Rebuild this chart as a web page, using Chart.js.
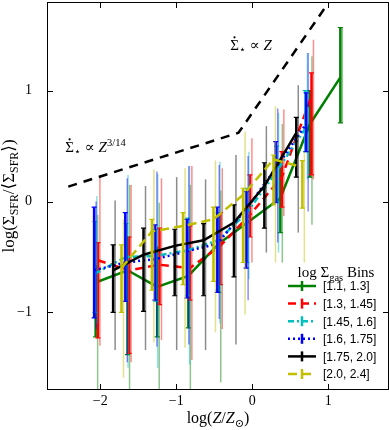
<!DOCTYPE html>
<html>
<head>
<meta charset="utf-8">
<script src="https://cdn.jsdelivr.net/npm/chart.js@4.4.0/dist/chart.umd.min.js"></script>
<style>
  html, body { margin: 0; padding: 0; background: #fff; }
</style>
</head>
<body>
<canvas id="myChart" width="390" height="430"></canvas>
<script>
// tick values
const xTicks = [-2, -1, 0, 1];
const yTicks = [-1, 0, 1];
const binLabels = ['[1.1, 1.3]', '[1.3, 1.45]', '[1.45, 1.6]', '[1.6, 1.75]', '[1.75, 2.0]', '[2.0, 2.4]'];

// [1.1, 1.3] bin
const greenX = [-2.06, -1.64, -1.25, -0.84, -0.44, 0.37, 0.76, 1.16];
const greenY = [-0.73, -0.62, -0.77, -0.67, -0.38, 0.03, 0.70, 1.12];
const greenLo = [-1.22, -1.38, -1.22, -1.14, -0.82, -0.28, 0.22, 0.71];
const greenHi = [-0.58, -0.32, -0.41, -0.35, -0.12, 0.35, 1.00, 1.57];
const greenThinLo = [-1.75, -1.75, -1.75, -1.75, -1.63, -0.55, -0.21, 0.71];
const greenThinHi = [-0.12, 0.15, -0.01, 0.15, 0.10, 0.70, 1.31, 1.57];

// [1.3, 1.45] bin
const redX = [-2.03, -1.62, -1.22, -0.82, -0.42, -0.03, 0.39, 0.78];
const redY = [-0.53, -0.62, -0.57, -0.60, -0.40, -0.12, 0.22, 0.95];
const redLo = [-1.23, -1.37, -0.93, -0.89, -0.75, -0.32, -0.05, 0.24];
const redHi = [-0.37, -0.32, -0.24, -0.22, -0.10, 0.24, 0.45, 1.16];
const redThinLo = [-1.30, -1.45, -1.25, -1.43, -1.15, -0.55, -0.13, 0.20];
const redThinHi = [0.24, 0.15, 0.21, 0.32, 0.30, 0.57, 0.83, 1.46];

// [1.45, 1.6] bin
const cyanX = [-2.07, -1.66, -1.27, -0.85, -0.45, -0.07, 0.32, 0.70];
const cyanY = [-0.65, -0.50, -0.49, -0.44, -0.35, -0.10, 0.27, 0.66];
const cyanLo = [-1.00, -0.90, -0.90, -0.85, -0.80, -0.55, 0.00, 0.45];
const cyanHi = [-0.18, -0.20, -0.25, -0.15, -0.10, 0.12, 0.50, 1.00];
const cyanThinLo = [-1.10, -1.50, -1.50, -1.47, -1.10, -0.70, -0.46, 0.20];
const cyanThinHi = [0.05, 0.24, 0.25, 0.32, 0.36, 0.45, 0.80, 1.34];

// [1.6, 1.75] bin
const blueX = [-2.08, -1.67, -1.28, -0.86, -0.46, -0.08, 0.31, 0.71];
const blueY = [-0.62, -0.55, -0.52, -0.45, -0.38, -0.07, 0.30, 0.70];
const blueLo = [-1.05, -0.90, -0.89, -0.87, -0.82, -0.60, -0.01, 0.45];
const blueHi = [-0.05, -0.10, -0.21, -0.16, -0.05, 0.09, 0.54, 0.98];
const blueThinLo = [-1.15, -1.45, -1.31, -1.29, -1.06, -0.89, -0.37, -0.09];
const blueThinHi = [0.00, 0.21, 0.27, 0.32, 0.33, 0.41, 0.84, 1.34];

// [1.75, 2.0] bin
const blackX = [-1.83, -1.43, -1.02, -0.64, -0.24, 0.16, 0.58];
const blackY = [-0.62, -0.48, -0.40, -0.35, -0.19, 0.14, 0.62];
const blackLo = [-1.00, -0.99, -0.85, -0.85, -0.68, -0.24, 0.22];
const blackHi = [-0.39, -0.24, -0.25, -0.20, -0.03, 0.35, 0.76];
const blackThinLo = [-1.34, -1.34, -1.34, -1.34, -1.29, -0.46, -0.28];
const blackThinHi = [0.01, 0.14, 0.22, 0.20, 0.42, 0.68, 1.05];

// [2.0, 2.4] bin
const yellowX = [-1.72, -1.32, -0.91, -0.51, -0.12, 0.28, 0.66];
const yellowY = [-0.60, -0.27, -0.22, -0.16, 0.06, 0.38, 0.31];
const yellowLo = [-1.00, -0.80, -0.75, -0.72, -0.55, -0.03, -0.06];
const yellowHi = [-0.39, -0.16, -0.10, -0.05, 0.12, 0.42, 0.37];
const yellowThinLo = [-1.59, -1.27, -1.32, -1.18, -1.02, -0.55, -0.55];
const yellowThinHi = [-0.16, 0.29, 0.30, 0.37, 0.63, 0.86, 0.45];

// scaling relation guide line
const refX = [-2.42, -0.18, 1.0];
const refY = [0.135, 0.62, 1.79];

const bins = [
  {x: greenX, y: greenY, lo: greenLo, hi: greenHi, thinLo: greenThinLo, thinHi: greenThinHi, rgb: '0,128,0', dash: []},
  {x: redX, y: redY, lo: redLo, hi: redHi, thinLo: redThinLo, thinHi: redThinHi, rgb: '255,0,0', dash: [8, 5]},
  {x: cyanX, y: cyanY, lo: cyanLo, hi: cyanHi, thinLo: cyanThinLo, thinHi: cyanThinHi, rgb: '0,191,191', dash: [6, 3, 2, 3]},
  {x: blueX, y: blueY, lo: blueLo, hi: blueHi, thinLo: blueThinLo, thinHi: blueThinHi, rgb: '0,0,255', dash: [2, 3]},
  {x: blackX, y: blackY, lo: blackLo, hi: blackHi, thinLo: blackThinLo, thinHi: blackThinHi, rgb: '0,0,0', dash: []},
  {x: yellowX, y: yellowY, lo: yellowLo, hi: yellowHi, thinLo: yellowThinLo, thinHi: yellowThinHi, rgb: '191,191,0', dash: [9, 5]}
];

const SERIF = "'Liberation Serif', 'DejaVu Serif', serif";
const SANS = "'Liberation Sans', Arial, sans-serif";

const datasets = bins.map((b, i) => ({
  label: binLabels[i],
  data: b.x.map((v, j) => ({x: v, y: b.y[j]})),
  borderColor: `rgb(${b.rgb})`,
  borderWidth: 2.5,
  borderDash: b.dash,
  pointRadius: 0,
  showLine: true,
  fill: false,
  order: bins.length - i
}));
datasets.push({
  label: 'ref',
  data: refX.map((v, j) => ({x: v, y: refY[j]})),
  borderColor: '#000',
  borderWidth: 2.5,
  borderDash: [9, 7],
  pointRadius: 0,
  showLine: true,
  fill: false,
  order: 0
});

// text made of normal / sub / sup pieces; 4th flag puts a dot over the piece
const richWidth = (ctx, parts, size) => {
  let w = 0;
  parts.forEach(([t, kind, it]) => {
    const s = kind ? size * 0.7 : size;
    ctx.font = `${it ? 'italic ' : ''}${s}px ${SERIF}`;
    w += ctx.measureText(t).width;
  });
  return w;
};
const drawRich = (ctx, parts, x, y, size) => {
  let cx = x;
  parts.forEach(([t, kind, it, dot]) => {
    const s = kind ? size * 0.7 : size;
    ctx.font = `${it ? 'italic ' : ''}${s}px ${SERIF}`;
    const dy = kind === 1 ? size * 0.25 : kind === 2 ? -size * 0.4 : 0;
    ctx.fillText(t, cx, y + dy);
    const w = ctx.measureText(t).width;
    if (dot) {
      ctx.beginPath();
      ctx.arc(cx + w / 2, y - size * 0.82, 1.1, 0, Math.PI * 2);
      ctx.fill();
    }
    cx += w;
  });
};

const errorBars = {
  id: 'errorBars',
  beforeDatasetDraw(chart, args) {
    const b = bins[args.index];
    if (!b) return;
    const {ctx, chartArea: a, scales: {x, y}} = chart;
    ctx.save();
    ctx.beginPath();
    ctx.rect(a.left, a.top, a.right - a.left, a.bottom - a.top);
    ctx.clip();
    b.x.forEach((v, j) => {
      const px = x.getPixelForValue(v);
      // thin bar: spread in the bin
      ctx.strokeStyle = `rgba(${b.rgb},0.45)`;
      ctx.lineWidth = 1.5;
      ctx.beginPath();
      ctx.moveTo(px + 2, y.getPixelForValue(b.thinLo[j]));
      ctx.lineTo(px + 2, y.getPixelForValue(b.thinHi[j]));
      ctx.stroke();
      // thick bar with caps
      const top = y.getPixelForValue(b.hi[j]);
      const bot = y.getPixelForValue(b.lo[j]);
      ctx.strokeStyle = `rgb(${b.rgb})`;
      ctx.lineWidth = 2.5;
      ctx.beginPath();
      ctx.moveTo(px, top);
      ctx.lineTo(px, bot);
      ctx.stroke();
      ctx.lineWidth = 1.2;
      ctx.beginPath();
      ctx.moveTo(px - 2.5, top); ctx.lineTo(px + 2.5, top);
      ctx.moveTo(px - 2.5, bot); ctx.lineTo(px + 2.5, bot);
      ctx.stroke();
    });
    ctx.restore();
  }
};

const frame = {
  id: 'frame',
  afterDraw(chart) {
    const {ctx, chartArea: a, scales: {x, y}} = chart;
    ctx.save();
    ctx.strokeStyle = '#000';
    ctx.lineWidth = 1;
    ctx.strokeRect(a.left + 0.5, a.top + 0.5, a.right - a.left - 1, a.bottom - a.top - 1);
    ctx.beginPath();
    xTicks.forEach(v => {
      const px = Math.round(x.getPixelForValue(v)) + 0.5;
      ctx.moveTo(px, a.bottom); ctx.lineTo(px, a.bottom - 6);
      ctx.moveTo(px, a.top); ctx.lineTo(px, a.top + 6);
    });
    yTicks.forEach(v => {
      const py = Math.round(y.getPixelForValue(v)) + 0.5;
      ctx.moveTo(a.left, py); ctx.lineTo(a.left + 6, py);
      ctx.moveTo(a.right, py); ctx.lineTo(a.right - 6, py);
    });
    ctx.stroke();

    ctx.fillStyle = '#000';
    ctx.textBaseline = 'alphabetic';
    ctx.textAlign = 'left';

    // x title
    const xt = [['log(', 0], ['Z', 0, 1], ['/', 0], ['Z', 0, 1], ['\u2299', 1], [')', 0]];
    const xw = richWidth(ctx, xt, 16);
    drawRich(ctx, xt, (a.left + a.right) / 2 - xw / 2, 423, 16);

    // y title
    const yt = [['log(\u03A3', 0], ['SFR', 1], ['/\u27E8\u03A3', 0], ['SFR', 1], ['\u27E9)', 0]];
    const yw = richWidth(ctx, yt, 17);
    ctx.save();
    ctx.translate(14, (a.top + a.bottom) / 2);
    ctx.rotate(-Math.PI / 2);
    drawRich(ctx, yt, -yw / 2, 0, 17);
    ctx.restore();

    // relation labels
    drawRich(ctx, [['\u03A3', 0, 0, 1], ['\u22C6', 1], [' \u221D ', 0], ['Z', 0, 1]],
      x.getPixelForValue(-0.29), y.getPixelForValue(1.37), 15);
    drawRich(ctx, [['\u03A3', 0, 0, 1], ['\u22C6', 1], [' \u221D ', 0], ['Z', 0, 1], ['3/14', 2]],
      x.getPixelForValue(-2.46), y.getPixelForValue(0.45), 15);

    // legend
    const lt = [['log \u03A3', 0], ['gas', 1], [' Bins', 0]];
    const lw = richWidth(ctx, lt, 15);
    drawRich(ctx, lt, 336 - lw / 2, 277, 15);
    bins.forEach((b, i) => {
      const ly = 286 + i * 17.6;
      ctx.strokeStyle = `rgb(${b.rgb})`;
      ctx.lineWidth = 2.5;
      ctx.setLineDash(b.dash);
      ctx.beginPath();
      ctx.moveTo(288, ly); ctx.lineTo(316, ly);
      ctx.stroke();
      ctx.setLineDash([]);
      ctx.beginPath();
      ctx.moveTo(302, ly - 5); ctx.lineTo(302, ly + 5);
      ctx.stroke();
      ctx.font = `12px ${SANS}`;
      ctx.textBaseline = 'middle';
      ctx.fillText(binLabels[i], 323, ly + 1);
      ctx.textBaseline = 'alphabetic';
    });
    ctx.restore();
  }
};

const tickLabel = v => (v < 0 ? '\u2212' + Math.abs(v) : String(v));

new Chart('myChart', {
  type: 'scatter',
  data: {datasets: datasets},
  options: {
    responsive: false,
    animation: false,
    devicePixelRatio: 1,
    layout: {padding: {top: 2, right: 1, left: 0, bottom: 0}},
    plugins: {legend: {display: false}, tooltip: {enabled: false}},
    scales: {
      x: {
        type: 'linear', min: -2.7, max: 1.8,
        grid: {display: false}, border: {display: false},
        afterBuildTicks: s => { s.ticks = xTicks.map(v => ({value: v})); },
        afterFit: s => { s.height = 40; s.paddingLeft = 0; s.paddingRight = 0; },
        ticks: {color: '#000', padding: -5, maxRotation: 0, font: {family: SERIF, size: 14}, callback: tickLabel}
      },
      y: {
        type: 'linear', min: -1.7, max: 1.8,
        grid: {display: false}, border: {display: false},
        afterBuildTicks: s => { s.ticks = yTicks.map(v => ({value: v})); },
        afterFit: s => { s.width = 47; s.paddingTop = 0; s.paddingBottom = 0; },
        ticks: {color: '#000', padding: 7, font: {family: SERIF, size: 14}, callback: tickLabel}
      }
    }
  },
  plugins: [errorBars, frame]
});
</script>
</body>
</html>
